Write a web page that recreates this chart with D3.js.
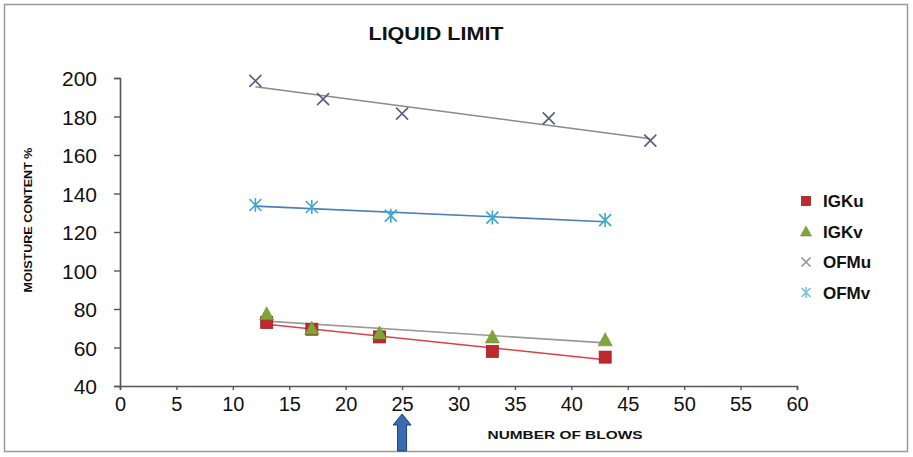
<!DOCTYPE html>
<html>
<head>
<meta charset="utf-8">
<script src="https://cdn.jsdelivr.net/npm/d3@7"></script>
<style>
  body { margin:0; background:#fff; }
  svg { display:block; font-family:"Liberation Sans", Arial, sans-serif; }
</style>
</head>
<body>
<svg id="chart" width="913" height="457"></svg>
<script>
// data
var xTicks = [0,5,10,15,20,25,30,35,40,45,50,55,60];
var yTicks = [40,60,80,100,120,140,160,180,200];

var igkuX = [13,17,23,33,43];
var igkuY = [73,69.5,65.5,58,55];
var igkvX = [13,17,23,33,43];
var igkvY = [77.5,70,67.5,65.5,64];
var ofmuX = [12,18,25,38,47];
var ofmuY = [198.5,189,181.5,179,167.5];
var ofmvX = [12,17,24,33,43];
var ofmvY = [134,133,128.5,127.5,126.2];

var series = [
  {name:"IGKu", xs:igkuX, ys:igkuY, marker:"square",   color:"#c0282d", line:"#d9414a"},
  {name:"IGKv", xs:igkvX, ys:igkvY, marker:"triangle", color:"#7fa53a", line:"#9a9a9a"},
  {name:"OFMu", xs:ofmuX, ys:ofmuY, marker:"cross",    color:"#5b5b85", line:"#8a8a8a"},
  {name:"OFMv", xs:ofmvX, ys:ofmvY, marker:"star",     color:"#3fa7cf", line:"#4a7fb8"}
];

var svg = d3.select("#chart");

// outer frame
svg.append("rect").attr("x",4.5).attr("y",4.5).attr("width",903).attr("height",447)
  .attr("fill","#fff").attr("stroke","#9a9a9a").attr("stroke-width",1.5);

var x = d3.scaleLinear().domain([0,60]).range([120,797]);
var y = d3.scaleLinear().domain([40,200]).range([386,78]);

/* axes */
var gx = svg.append("g").attr("transform","translate(0,386)")
  .call(d3.axisBottom(x).tickValues(xTicks).tickSize(4).tickPadding(5));
var gy = svg.append("g").attr("transform","translate(120,0)")
  .call(d3.axisLeft(y).tickValues(yTicks).tickSize(6).tickPadding(17));

[gx,gy].forEach(function(g){
  g.select(".domain").attr("stroke","#555").attr("stroke-width",1.6);
  g.selectAll(".tick line").attr("stroke","#555").attr("stroke-width",1.4);
  g.selectAll(".tick text").attr("fill","#111");
});
gx.selectAll(".tick text").attr("dy","0.82em").style("font-size","20px");
gy.selectAll(".tick text").attr("dy","0.36em").style("font-size","21px");

/* trend lines: least squares fit of each series */
function fit(xs, ys){
  var mx = d3.mean(xs), my = d3.mean(ys);
  var sxy = d3.sum(xs, function(v,i){ return (v-mx)*(ys[i]-my); });
  var sxx = d3.sum(xs, function(v){ return (v-mx)*(v-mx); });
  var b = sxy/sxx;
  return function(v){ return my + b*(v-mx); };
}

series.forEach(function(s){
  var f = fit(s.xs, s.ys);
  var x0 = d3.min(s.xs), x1 = d3.max(s.xs);
  svg.append("line")
    .attr("x1",x(x0)).attr("y1",y(f(x0)))
    .attr("x2",x(x1)).attr("y2",y(f(x1)))
    .attr("stroke",s.line).attr("stroke-width",1.6);
});

function drawMarker(g, type, color, size){
  var h = size/2;
  if(type=="square"){
    g.append("rect").attr("x",-h).attr("y",-h).attr("width",size).attr("height",size)
      .attr("fill",color).attr("stroke","#a01e22").attr("stroke-width",0.8);
  } else if(type=="triangle"){
    g.append("path").attr("d","M0,"+(-h-1)+"L"+(h+1)+","+(h)+"L"+(-h-1)+","+(h)+"Z")
      .attr("fill",color).attr("stroke","#6a8f2c").attr("stroke-width",0.6);
  } else if(type=="cross"){
    g.append("path").attr("d","M"+(-h)+","+(-h)+"L"+h+","+h+"M"+(-h)+","+h+"L"+h+","+(-h))
      .attr("stroke",color).attr("stroke-width",1.6).attr("fill","none");
  } else {
    g.append("path").attr("d","M"+(-h)+","+(-h)+"L"+h+","+h+"M"+(-h)+","+h+"L"+h+","+(-h)+"M0,"+(-h-1)+"L0,"+(h+1))
      .attr("stroke",color).attr("stroke-width",1.6).attr("fill","none");
  }
}

series.forEach(function(s){
  s.xs.forEach(function(v,i){
    var g = svg.append("g").attr("transform","translate("+x(v)+","+y(s.ys[i])+")");
    drawMarker(g, s.marker, s.color, 12);
  });
});

/* legend */
var legend = svg.append("g").attr("transform","translate(806,201)");
series.forEach(function(s,i){
  var g = legend.append("g").attr("transform","translate(0,"+(i*30.5)+")");
  var mk = g.append("g");
  drawMarker(mk, s.marker, s.name=="OFMu" ? "#8f8fa8" : (s.name=="OFMv" ? "#7cc2dc" : s.color), 9);
  g.append("text").attr("x",17).attr("y",0).attr("dy","0.36em")
    .style("font-size","17px").style("font-weight","bold").attr("fill","#111")
    .text(s.name);
});

/* titles */
svg.append("text").attr("x",436).attr("y",40).attr("text-anchor","middle")
  .style("font-size","18px").style("font-weight","bold").attr("fill","#111")
  .attr("textLength",135).attr("lengthAdjust","spacingAndGlyphs")
  .text("LIQUID LIMIT");

svg.append("text").attr("x",565).attr("y",439).attr("text-anchor","middle")
  .style("font-size","11px").style("font-weight","bold").attr("fill","#111")
  .attr("textLength",155).attr("lengthAdjust","spacingAndGlyphs")
  .text("NUMBER OF BLOWS");

svg.append("text").attr("transform","translate(32,220) rotate(-90)").attr("text-anchor","middle")
  .style("font-size","11px").style("font-weight","bold").attr("fill","#111")
  .attr("textLength",145).attr("lengthAdjust","spacingAndGlyphs")
  .text("MOISTURE CONTENT %");

/* arrow under 25 blows */
var ax = x(25);
svg.append("path")
  .attr("d","M"+ax+",414 L"+(ax+9)+",425 L"+(ax+4.5)+",425 L"+(ax+4.5)+",451 L"+(ax-4.5)+",451 L"+(ax-4.5)+",425 L"+(ax-9)+",425 Z")
  .attr("fill","#3a6bb0").attr("stroke","#1f3f73").attr("stroke-width",1);
</script>
</body>
</html>
